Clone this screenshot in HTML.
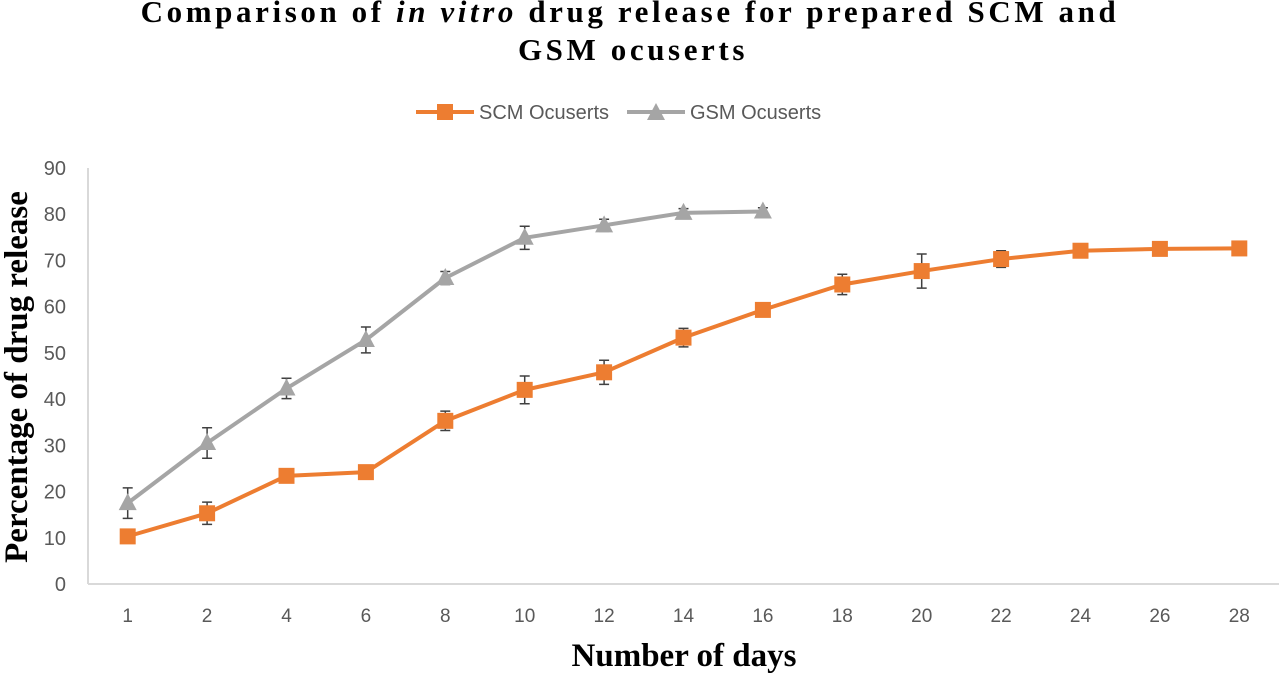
<!DOCTYPE html>
<html><head><meta charset="utf-8"><style>
body{margin:0;background:#fff;width:1280px;height:675px;overflow:hidden}
svg{display:block}
</style></head><body>
<svg id="chart" width="1280" height="675">
<text x="630" y="22" text-anchor="middle" font-family="Liberation Serif, serif" font-weight="bold" font-size="31" letter-spacing="3.6" fill="#000">Comparison of <tspan font-style="italic">in vitro</tspan> drug release for prepared SCM and</text>
<text x="633" y="60" text-anchor="middle" font-family="Liberation Serif, serif" font-weight="bold" font-size="31" letter-spacing="3.6" fill="#000">GSM ocuserts</text>
<g>
<g><line x1="416" y1="112" x2="474" y2="112" stroke="#ED7D31" stroke-width="4"/><rect x="437" y="104" width="16" height="16" fill="#ED7D31"/><text x="479" y="119" font-family="Liberation Sans, sans-serif" font-size="20" fill="#595959">SCM Ocuserts</text></g>
<g><line x1="627" y1="112" x2="685" y2="112" stroke="#A5A5A5" stroke-width="4"/><polygon points="656,103 665,120 647,120" fill="#A5A5A5"/><text x="690" y="119" font-family="Liberation Sans, sans-serif" font-size="20" fill="#595959">GSM Ocuserts</text></g>
</g>
<text transform="translate(27,377) rotate(-90)" text-anchor="middle" font-family="Liberation Serif, serif" font-weight="bold" font-size="33" fill="#000">Percentage of drug release</text>
<text x="684" y="666" text-anchor="middle" font-family="Liberation Serif, serif" font-weight="bold" font-size="33" fill="#000">Number of days</text>
<g id="axes"></g><g id="marks"></g>
</svg>
<script>
const categories=["1","2","4","6","8","10","12","14","16","18","20","22","24","26","28"];
const yTicks=[0,10,20,30,40,50,60,70,80,90];
const scmValues=[10.3,15.3,23.4,24.2,35.3,42.0,45.8,53.3,59.3,64.8,67.7,70.3,72.1,72.5,72.6];
const scmErrors=[0.8,2.4,1.0,1.0,2.1,3.0,2.6,2.0,0.9,2.2,3.7,1.8,0.7,0.6,0.6];
const gsmValues=[17.5,30.5,42.3,52.8,66.2,74.9,77.6,80.3,80.6];
const gsmErrors=[3.3,3.3,2.2,2.8,1.4,2.5,1.3,0.9,0.8];
const NS="http://www.w3.org/2000/svg";
const X0=88,X1=1279,Y0=584,Y90=168;
const x=i=>X0+(X1-X0)/categories.length*(i+0.5);
const y=v=>Y0-(Y0-Y90)*v/90;
function mk(tag,attrs,parent){const e=document.createElementNS(NS,tag);for(const k in attrs)e.setAttribute(k,attrs[k]);parent.appendChild(e);return e;}
const axes=document.getElementById('axes'),marks=document.getElementById('marks');
let e=mk('line',{x1:X0,y1:Y90,x2:X0,y2:Y0,stroke:'#d9d9d9','stroke-width':2},axes);


e=mk('line',{x1:X0,y1:Y0,x2:X1,y2:Y0,stroke:'#d9d9d9','stroke-width':2},axes);


yTicks.forEach(t=>{const el=mk('text',{x:66,y:y(t)+7,'text-anchor':'end','font-family':'Liberation Sans, sans-serif','font-size':20,fill:'#595959'},axes);el.textContent=t;

});
categories.forEach((c,i)=>{const el=mk('text',{x:x(i),y:622,'text-anchor':'middle','font-family':'Liberation Sans, sans-serif','font-size':19,fill:'#595959'},axes);el.textContent=c;

});
function series(vals,errs,color,shape,name){
 const g=mk('g',{},marks);
 
 
 vals.forEach((v,i)=>{
  const eb=mk('path',{d:`M${x(i)},${y(v+errs[i])}V${y(v-errs[i])}M${x(i)-5},${y(v+errs[i])}h10M${x(i)-5},${y(v-errs[i])}h10`,stroke:'#404040','stroke-width':1.5,fill:'none'},g);
  
  
 });
 const l=mk('polyline',{points:vals.map((v,i)=>x(i)+','+y(v)).join(' '),fill:'none',stroke:color,'stroke-width':4,'stroke-linejoin':'round'},g);
 
 
 vals.forEach((v,i)=>{
  let m;
  if(shape==='square'){m=mk('rect',{x:x(i)-8,y:y(v)-8,width:16,height:16,fill:color},g);}
  else{const cx=x(i),cy=y(v);m=mk('polygon',{points:`${cx},${cy-10} ${cx+9},${cy+7} ${cx-9},${cy+7}`,fill:color},g);}
  
  
 });
}
series(scmValues,scmErrors,'#ED7D31','square','scm');
series(gsmValues,gsmErrors,'#A5A5A5','triangle','gsm');
</script>
</body></html>
